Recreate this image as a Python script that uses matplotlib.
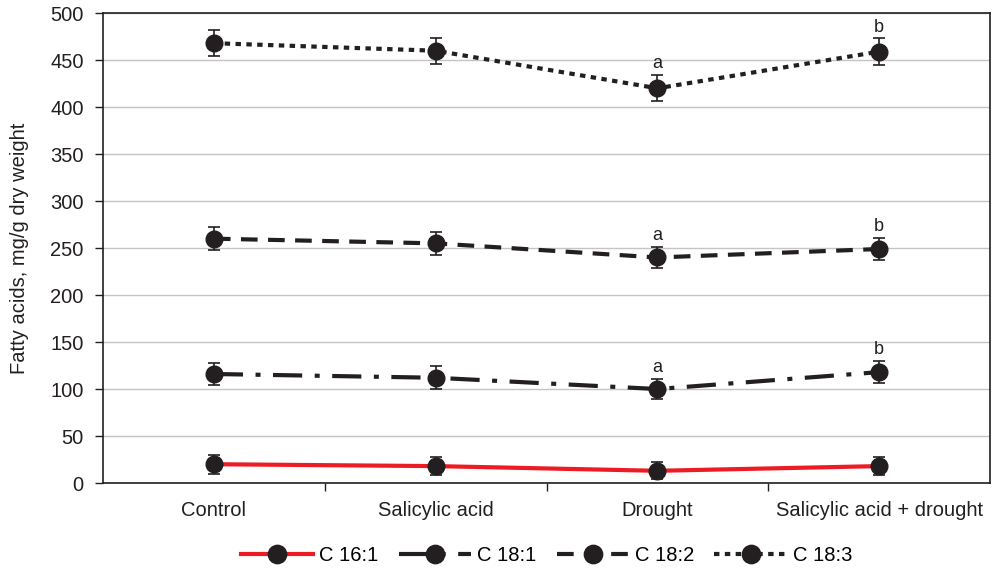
import matplotlib.pyplot as plt
import numpy as np

plt.rcParams["font.family"] = ["Liberation Sans", "DejaVu Sans"]

# ======================
# DATA
# ======================
treatments = ["Control", "Salicylic acid", "Drought", "Salicylic acid + drought"]
series_names = ["C 16:1", "C 18:1", "C 18:2", "C 18:3"]

c16_1 = [20, 18, 13, 18]
c18_1 = [116, 112, 100, 118]
c18_2 = [260, 255, 240, 249]
c18_3 = [468, 460, 420, 459]

err_c16_1 = [10, 10, 9, 10]
err_c18_1 = [12, 12, 11, 12]
err_c18_2 = [12, 12, 11, 12]
err_c18_3 = [14, 14, 14, 14]

# significance letters (Drought, Salicylic acid + drought)
letters = ["", "", "a", "b"]

# ======================
# PLOT
# ======================
fig = plt.figure(figsize=(10, 5.7), dpi=100)
ax = fig.add_axes([0.103, 0.1526, 0.887, 0.8244])

x = np.arange(len(treatments))
dark = "#231f20"
fs = 14.5

styles = [
    dict(color="#ed1c24", linestyle="-"),
    dict(color=dark, linestyle=(0, (7, 3, 1.2, 3))),
    dict(color=dark, linestyle=(0, (4, 2.5))),
    dict(color=dark, linestyle=(0, (1.3, 1.3))),
]
values = [c16_1, c18_1, c18_2, c18_3]
errors = [err_c16_1, err_c18_1, err_c18_2, err_c18_3]

for name, vals, errs, st in zip(series_names, values, errors, styles):
    ax.plot(x, vals, color=st["color"], linestyle=st["linestyle"], linewidth=3,
            marker="o", markersize=12, markerfacecolor=dark, markeredgecolor=dark,
            label=name, zorder=3)
    ax.errorbar(x, vals, yerr=errs, fmt="none", ecolor=dark, elinewidth=1.2,
                capsize=4.5, capthick=1.2, zorder=4)

# significance letters above top three series
for vals, errs in zip(values[1:], errors[1:]):
    for i, letter in enumerate(letters):
        if letter:
            ax.text(x[i], vals[i] + errs[i] + 3, letter, ha="center", va="bottom",
                    fontsize=13, color=dark)

ax.set_xlim(-0.5, len(treatments) - 0.5)
ax.set_ylim(0, 500)
ax.set_yticks(np.arange(0, 501, 50))
ax.set_xticks(x)
ax.set_xticklabels(treatments, fontsize=fs, color=dark)
ax.set_xticks(np.arange(0.5, len(treatments) - 0.5, 1), minor=True)
ax.tick_params(axis="x", which="major", length=0, pad=13)
ax.tick_params(axis="x", which="minor", length=6, width=1, color=dark)
ax.tick_params(axis="y", labelsize=fs, length=6, width=1, colors=dark, pad=8)
ax.yaxis.grid(True, color="#c4c4c4", linewidth=1)
ax.set_axisbelow(True)
for s in ax.spines.values():
    s.set_color(dark)
    s.set_linewidth(1.2)

ax.set_ylabel("Fatty acids, mg/g dry weight", fontsize=fs, color=dark, labelpad=15)

ax.legend(loc="center", bbox_to_anchor=(0.5, -0.155), ncol=4, frameon=False,
          fontsize=fs, handlelength=3.6, columnspacing=1.0, handletextpad=0.3,
          markerscale=1.1)

plt.savefig("out.png", dpi=100)
